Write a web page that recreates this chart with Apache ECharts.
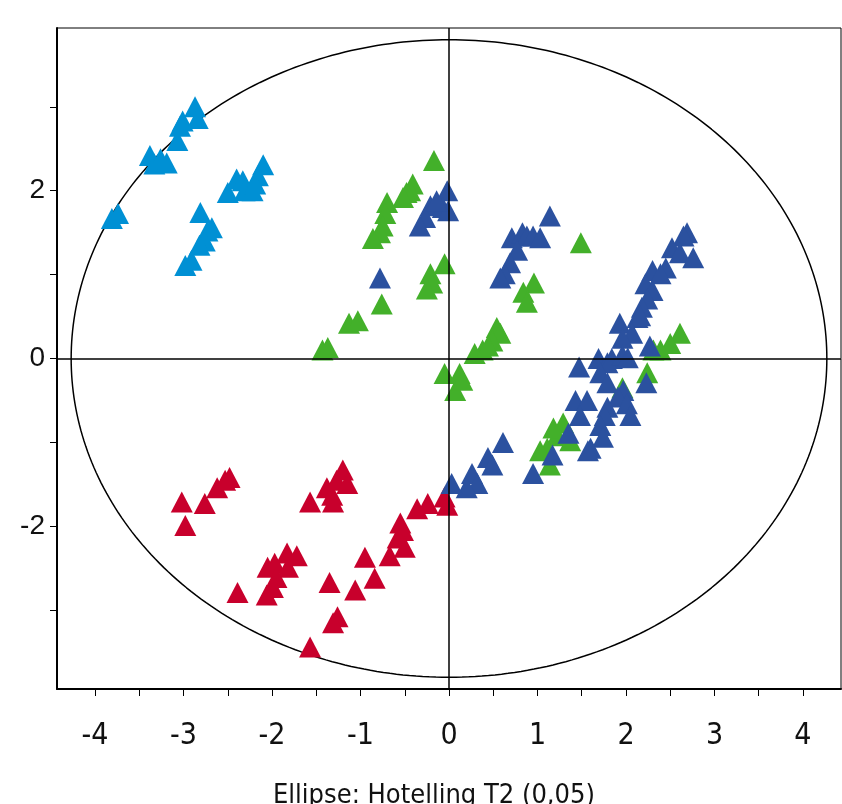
<!DOCTYPE html>
<html><head><meta charset="utf-8">
<script src="https://cdn.jsdelivr.net/npm/echarts@6/dist/echarts.min.js"></script>
<style>html,body{margin:0;padding:0;background:#fff}#c{width:842px;height:804px}</style>
</head><body><div id="c"></div>
<script>
// Group data: [t1, t2] score values
const lightBlue = [[-3.81,1.67],[-3.74,1.73],[-3.38,2.42],[-3.33,2.32],[-3.19,2.33],[-3.26,2.38],[-3.07,2.60],[-3.04,2.77],[-3.01,2.83],[-2.87,3.00],[-2.84,2.86],[-2.81,1.74],[-2.73,1.52],[-2.68,1.56],[-2.76,1.40],[-2.82,1.35],[-2.91,1.17],[-2.98,1.11],[-2.50,1.98],[-2.40,2.14],[-2.33,2.12],[-2.31,2.00],[-2.22,2.00],[-2.10,2.31],[-2.16,2.18],[-2.19,2.08]];
const green = [[-0.17,2.36],[-0.41,2.08],[-0.44,2.00],[-0.48,1.98],[-0.52,1.92],[-0.70,1.86],[-0.72,1.73],[-0.75,1.58],[-0.78,1.50],[-0.86,1.43],[-0.76,0.65],[-1.13,0.42],[-1.03,0.45],[-1.43,0.10],[-1.37,0.13],[-0.05,1.13],[-0.21,1.01],[-0.19,0.90],[-0.25,0.83],[1.49,1.38],[0.96,0.90],[0.84,0.79],[0.88,0.67],[0.54,0.37],[0.58,0.30],[0.49,0.21],[0.38,0.10],[0.29,0.06],[0.44,0.15],[-0.05,-0.18],[0.12,-0.18],[0.07,-0.38],[0.15,-0.26],[2.61,0.30],[2.50,0.18],[2.39,0.10],[2.31,0.10],[2.24,-0.17],[1.96,-0.35],[1.29,-0.77],[1.22,-0.92],[1.37,-0.98],[1.11,-1.07],[1.14,-1.27],[1.03,-1.10],[1.18,-0.83]];
const darkBlue = [[-0.02,2.00],[-0.21,1.82],[-0.07,1.80],[-0.01,1.76],[-0.27,1.68],[-0.33,1.58],[-0.14,1.88],[-0.78,0.96],[1.14,1.70],[0.71,1.44],[0.83,1.50],[0.88,1.46],[0.95,1.46],[1.03,1.44],[0.77,1.29],[0.69,1.14],[0.63,1.01],[0.58,0.96],[2.69,1.50],[2.65,1.46],[2.52,1.32],[2.61,1.26],[2.76,1.20],[2.45,1.08],[2.30,1.05],[2.39,1.01],[2.22,0.89],[2.30,0.81],[2.24,0.71],[2.18,0.61],[2.13,0.49],[1.93,0.42],[2.16,0.51],[2.07,0.30],[1.96,0.24],[2.27,0.15],[1.69,0.00],[1.79,-0.05],[1.84,0.00],[1.96,0.04],[2.02,0.01],[1.47,-0.10],[1.71,-0.17],[1.79,-0.29],[2.23,-0.29],[1.97,-0.38],[1.91,-0.46],[2.01,-0.54],[2.05,-0.68],[1.43,-0.50],[1.56,-0.50],[1.48,-0.68],[1.79,-0.58],[1.76,-0.68],[1.35,-0.89],[1.71,-0.80],[1.74,-0.94],[1.60,-1.07],[1.17,-1.15],[1.57,-1.10],[0.61,-1.00],[0.44,-1.18],[0.49,-1.27],[0.26,-1.37],[0.32,-1.49],[0.20,-1.54],[0.03,-1.49],[0.95,-1.37]];
const red = [[-3.02,-1.71],[-2.76,-1.73],[-2.98,-1.99],[-2.62,-1.54],[-2.53,-1.45],[-2.48,-1.42],[-1.57,-1.71],[-1.38,-1.54],[-1.32,-1.63],[-1.27,-1.45],[-1.20,-1.33],[-1.15,-1.49],[-1.31,-1.71],[-2.05,-2.49],[-1.97,-2.44],[-1.83,-2.32],[-1.72,-2.35],[-1.95,-2.61],[-1.99,-2.73],[-2.06,-2.82],[-1.82,-2.49],[-2.39,-2.79],[-1.35,-2.67],[-1.06,-2.76],[-0.84,-2.62],[-0.95,-2.37],[-1.26,-3.08],[-1.31,-3.15],[-1.57,-3.44],[-0.55,-1.96],[-0.52,-2.05],[-0.58,-2.14],[-0.50,-2.25],[-0.67,-2.35],[-0.36,-1.79],[-0.24,-1.73],[-0.05,-1.65],[-0.02,-1.75]];

const xTickLabels = [-4,-3,-2,-1,0,1,2,3,4];
const xTicks = [-4,-3.5,-3,-2.5,-2,-1.5,-1,-0.5,0,0.5,1,1.5,2,2.5,3,3.5,4];
const yTickLabels = [-2,0,2];
const yTicks = [-3,-2,-1,0,1,2,3];
const ellipseA = 4.27, ellipseB = 3.8; // Hotelling T2 (0.05) semi-axes
const caption = 'Ellipse: Hotelling T2 (0,05)';

const ellipse = [];
for (let i = 0; i <= 360; i++) {
  const t = i * Math.PI / 180;
  ellipse.push([ellipseA * Math.cos(t), ellipseB * Math.sin(t)]);
}

const narrow = "'Liberation Sans Narrow','DejaVu Sans Condensed','Liberation Sans',sans-serif";
const chart = echarts.init(document.getElementById('c'), null, {renderer: 'canvas'});
function sc(data, color) {
  return {type: 'scatter', data: data, symbol: 'triangle', symbolSize: [22, 21],
    itemStyle: {color: color, opacity: 1}, z: 3, silent: true};
}
chart.setOption({
  animation: false,
  title: {text: caption, left: 268, top: 777,
    textStyle: {fontFamily: narrow, fontSize: 27, fontWeight: 'normal', color: '#111'}},
  grid: {left: 57, right: 1, top: 28, bottom: 115, show: true, borderColor: '#000', borderWidth: 1, backgroundColor: 'transparent'},
  xAxis: {type: 'value', min: -4.43, max: 4.43,
    axisLine: {show: true, onZero: false, lineStyle: {color: '#000', width: 2}},
    axisTick: {show: true, length: 7, customValues: xTicks, lineStyle: {color: '#000', width: 1}},
    axisLabel: {customValues: xTickLabels, margin: 32, fontFamily: narrow, fontSize: 30, color: '#111'},
    splitLine: {show: false}},
  yAxis: {type: 'value', min: -3.94, max: 3.94,
    axisLine: {show: true, onZero: false, lineStyle: {color: '#000', width: 2}},
    axisTick: {show: true, length: 7, customValues: yTicks, lineStyle: {color: '#000', width: 1}},
    axisLabel: {customValues: yTickLabels, margin: 12, fontFamily: "'Liberation Sans',Arial,sans-serif", fontSize: 28, color: '#111'},
    splitLine: {show: false}},
  series: [
    {type: 'line', data: ellipse, showSymbol: false, symbol: 'none', silent: true, z: 2,
      lineStyle: {color: '#000', width: 1.5},
      markLine: {silent: true, symbol: 'none', label: {show: false},
        lineStyle: {color: '#000', width: 1.5, type: 'solid'},
        data: [{xAxis: 0}, {yAxis: 0}]}},
    sc(lightBlue, '#0090D4'),
    sc(green, '#43B02A'),
    sc(red, '#C8002C'),
    sc(darkBlue, '#2B519F')
  ]
});
</script></body></html>
